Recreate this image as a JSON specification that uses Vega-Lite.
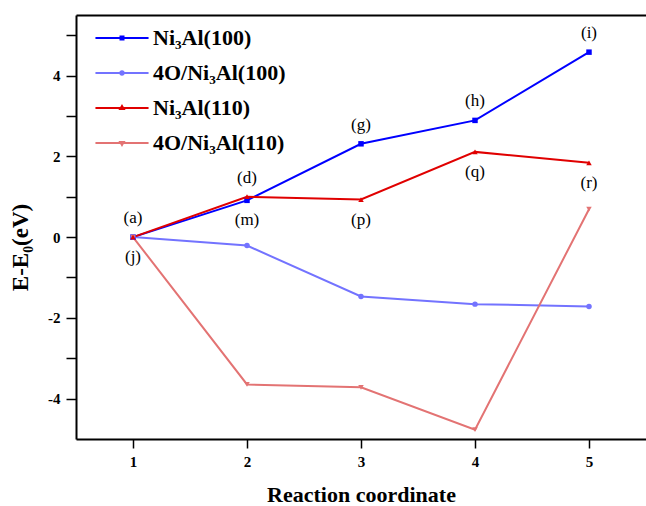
{
  "$schema": "https://vega.github.io/schema/vega-lite/v6.json",
  "width": 570,
  "height": 424,
  "autosize": {"type": "none"},
  "padding": {"left": 76, "top": 15, "right": 0, "bottom": 67},
  "background": "white",
  "config": {
    "view": {"stroke": null},
    "axis": {"grid": false, "domainColor": "black", "domainWidth": 2, "tickColor": "black", "tickWidth": 1.5, "labelFont": "Liberation Serif", "labelFontWeight": "bold", "labelFontSize": 15, "labelColor": "black", "titleFont": "Liberation Serif", "titleFontWeight": "bold", "titleFontSize": 22, "titleColor": "black"},
    "legend": {"title": null, "orient": "none", "legendX": 30, "legendY": 7, "padding": 0, "labelFont": "Liberation Serif", "labelFontWeight": "bold", "labelFontSize": 22, "labelColor": "black", "symbolSize": 900, "symbolStrokeWidth": 2, "symbolOpacity": 1, "labelOffset": 15, "rowPadding": 8}
  },
  "datasets": {
    "series": [
      {"series": "Ni₃Al(100)", "x": 1, "E": 0},
      {"series": "Ni₃Al(100)", "x": 2, "E": 0.91},
      {"series": "Ni₃Al(100)", "x": 3, "E": 2.31},
      {"series": "Ni₃Al(100)", "x": 4, "E": 2.89},
      {"series": "Ni₃Al(100)", "x": 5, "E": 4.58},
      {"series": "4O/Ni₃Al(100)", "x": 1, "E": 0},
      {"series": "4O/Ni₃Al(100)", "x": 2, "E": -0.21},
      {"series": "4O/Ni₃Al(100)", "x": 3, "E": -1.47},
      {"series": "4O/Ni₃Al(100)", "x": 4, "E": -1.66},
      {"series": "4O/Ni₃Al(100)", "x": 5, "E": -1.72},
      {"series": "4O/Ni₃Al(110)", "x": 1, "E": 0},
      {"series": "4O/Ni₃Al(110)", "x": 2, "E": -3.65},
      {"series": "4O/Ni₃Al(110)", "x": 3, "E": -3.72},
      {"series": "4O/Ni₃Al(110)", "x": 4, "E": -4.77},
      {"series": "4O/Ni₃Al(110)", "x": 5, "E": 0.69},
      {"series": "Ni₃Al(110)", "x": 1, "E": 0},
      {"series": "Ni₃Al(110)", "x": 2, "E": 1.0},
      {"series": "Ni₃Al(110)", "x": 3, "E": 0.93},
      {"series": "Ni₃Al(110)", "x": 4, "E": 2.11},
      {"series": "Ni₃Al(110)", "x": 5, "E": 1.84}
    ],
    "labels": [
      {"label": "(a)", "x": 1, "E": 0, "pos": "above"},
      {"label": "(j)", "x": 1, "E": 0, "pos": "below"},
      {"label": "(d)", "x": 2, "E": 1.0, "pos": "above"},
      {"label": "(m)", "x": 2, "E": 0.91, "pos": "below"},
      {"label": "(g)", "x": 3, "E": 2.31, "pos": "above"},
      {"label": "(p)", "x": 3, "E": 0.93, "pos": "below"},
      {"label": "(h)", "x": 4, "E": 2.89, "pos": "above"},
      {"label": "(q)", "x": 4, "E": 2.11, "pos": "below"},
      {"label": "(i)", "x": 5, "E": 4.58, "pos": "above"},
      {"label": "(r)", "x": 5, "E": 1.84, "pos": "below"}
    ]
  },
  "resolve": {"axis": {"x": "independent"}, "scale": {"shape": "independent", "fill": "independent", "stroke": "independent"}},
  "layer": [
    {
      "data": {"name": "series"},
      "mark": {"type": "line", "strokeWidth": 2},
      "encoding": {
        "x": {"field": "x", "type": "quantitative", "scale": {"domain": [0.5, 5.5], "nice": false, "zero": false},
          "axis": {"values": [1, 2, 3, 4, 5], "title": "Reaction coordinate", "tickSize": 9, "labelPadding": 6, "titlePadding": 15}},
        "y": {"field": "E", "type": "quantitative", "scale": {"domain": [-5, 5.5], "nice": false, "zero": false},
          "axis": {"values": [-4, -3, -2, -1, 0, 1, 2, 3, 4, 5], "labelExpr": "datum.value % 2 === 0 ? '' + datum.value : ''", "title": "E-E₀(eV)", "tickSize": 10, "labelPadding": 6, "titleFontSize": 23, "titleX": -49, "titleY": 232, "titleBaseline": "alphabetic"}},
        "color": {"field": "series", "type": "nominal", "legend": null,
          "scale": {"domain": ["Ni₃Al(100)", "4O/Ni₃Al(100)", "Ni₃Al(110)", "4O/Ni₃Al(110)"], "range": ["#0000FF", "#7373FF", "#E00000", "#E37373"]}},
        "order": {"field": "x", "type": "quantitative"}
      }
    },
    {
      "data": {"name": "series"},
      "mark": {"type": "point", "filled": true, "opacity": 1, "size": 30},
      "encoding": {
        "x": {"field": "x", "type": "quantitative", "axis": null},
        "y": {"field": "E", "type": "quantitative"},
        "color": {"field": "series", "type": "nominal", "legend": null},
        "shape": {"field": "series", "type": "nominal", "legend": null,
          "scale": {"domain": ["Ni₃Al(100)", "4O/Ni₃Al(100)", "Ni₃Al(110)", "4O/Ni₃Al(110)"], "range": ["square", "circle", "triangle-up", "triangle-down"]}}
      }
    },
    {
      "data": {"name": "series"},
      "mark": {"type": "point", "filled": true, "opacity": 0, "size": 900, "strokeWidth": 2},
      "encoding": {
        "x": {"field": "x", "type": "quantitative", "axis": null},
        "y": {"field": "E", "type": "quantitative"},
        "fill": {"field": "series", "type": "nominal",
          "scale": {"domain": ["Ni₃Al(100)", "4O/Ni₃Al(100)", "Ni₃Al(110)", "4O/Ni₃Al(110)"], "range": ["#0000FF", "#7373FF", "#E00000", "#E37373"]}},
        "stroke": {"field": "series", "type": "nominal",
          "scale": {"domain": ["Ni₃Al(100)", "4O/Ni₃Al(100)", "Ni₃Al(110)", "4O/Ni₃Al(110)"], "range": ["#0000FF", "#7373FF", "#E00000", "#E37373"]}},
        "shape": {"field": "series", "type": "nominal",
          "scale": {"domain": ["Ni₃Al(100)", "4O/Ni₃Al(100)", "Ni₃Al(110)", "4O/Ni₃Al(110)"],
            "range": ["M-1.77,0H1.77M-0.1,-0.1H0.1V0.1H-0.1Z", "M-1.77,0H1.77M0.11,0A0.11,0.11 0 1 1 -0.11,0A0.11,0.11 0 1 1 0.11,0Z", "M-1.77,0H1.77M0,-0.14L0.12,0.06H-0.12Z", "M-1.77,0H1.77M0,0.14L0.12,-0.06H-0.12Z"]}}
      }
    },
    {
      "data": {"name": "labels"},
      "transform": [{"filter": "datum.pos === 'above'"}],
      "mark": {"type": "text", "font": "Liberation Serif", "fontSize": 17, "color": "black", "dy": -19},
      "encoding": {
        "x": {"field": "x", "type": "quantitative", "axis": {"orient": "top", "labels": false, "ticks": false, "title": null, "domain": true}},
        "y": {"field": "E", "type": "quantitative"},
        "text": {"field": "label"}
      }
    },
    {
      "data": {"name": "labels"},
      "transform": [{"filter": "datum.pos === 'below'"}],
      "mark": {"type": "text", "font": "Liberation Serif", "fontSize": 17, "color": "black", "dy": 20},
      "encoding": {
        "x": {"field": "x", "type": "quantitative", "axis": null},
        "y": {"field": "E", "type": "quantitative"},
        "text": {"field": "label"}
      }
    }
  ]
}
